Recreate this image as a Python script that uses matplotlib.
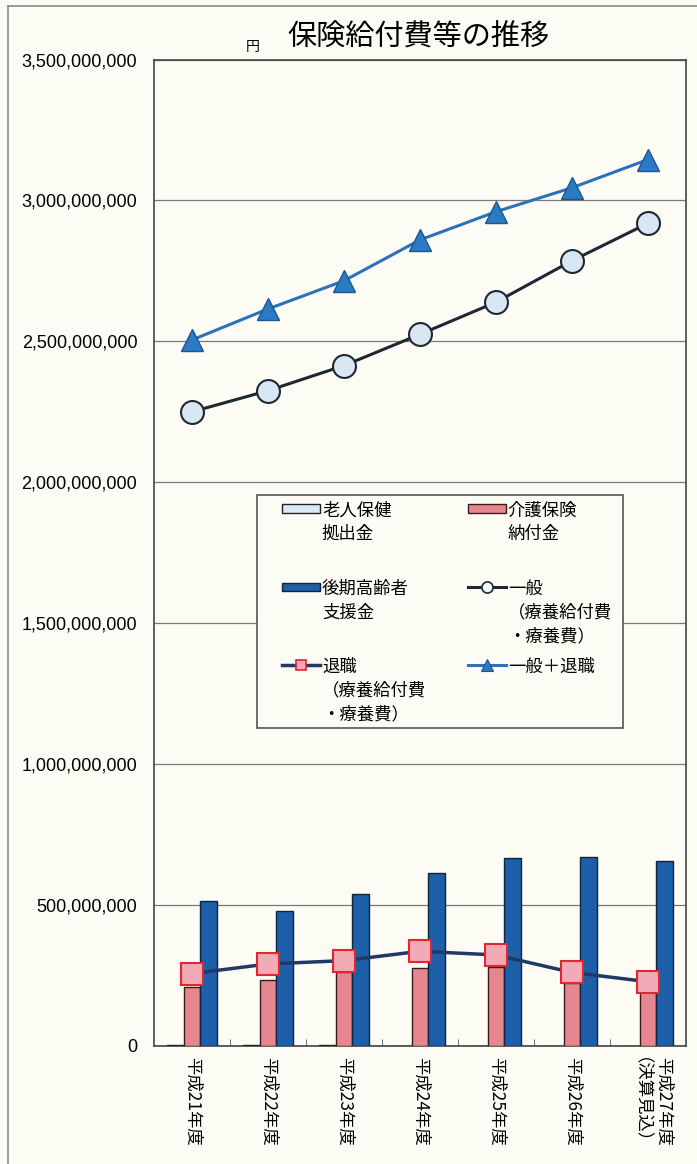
import numpy as np
import matplotlib
matplotlib.use('Agg')
import matplotlib.pyplot as plt
from matplotlib.patches import Rectangle
from matplotlib.lines import Line2D
from matplotlib.legend_handler import HandlerPatch
from matplotlib.ticker import FuncFormatter, MultipleLocator

plt.rcParams['font.family'] = ['Noto Sans CJK JP', 'DejaVu Sans']

#data (yen)
years = ['平成21年度', '平成22年度', '平成23年度', '平成24年度',
         '平成25年度', '平成26年度', '平成27年度\n（決算見込）']
roujin = [3.0e6, 2.5e6, 2.0e6, 1.5e6, 1.5e6, 1.0e6, 1.0e6]        #老人保健拠出金
kaigo = [2.08e8, 2.34e8, 2.62e8, 2.76e8, 2.82e8, 2.22e8, 1.90e8]   #介護保険納付金
kouki = [5.13e8, 4.80e8, 5.41e8, 6.13e8, 6.68e8, 6.69e8, 6.57e8]   #後期高齢者支援金
ippan = [2.250e9, 2.325e9, 2.414e9, 2.525e9, 2.639e9, 2.786e9, 2.919e9]
taishoku = [2.57e8, 2.91e8, 3.03e8, 3.36e8, 3.23e8, 2.61e8, 2.28e8]
goukei = [2.505e9, 2.615e9, 2.715e9, 2.860e9, 2.960e9, 3.045e9, 3.145e9]

legend_labels = ['老人保健\n拠出金\n', '後期高齢者\n支援金\n', '退職\n（療養給付費\n・療養費）',
                 '介護保険\n納付金\n', '一般\n（療養給付費\n・療養費）', '一般＋退職']

#colours
bg = '#fcfcf4'
c_roujin = '#d8eaf4'
c_kaigo = '#e6878f'
c_kouki = '#1d5fa8'
c_ippan = '#1f2733'
c_tai_line = '#1e3a66'
c_goukei = '#2b72ba'

W, H = 697, 1164
fig = plt.figure(figsize=(W/100, H/100), dpi=100)
fig.patch.set_facecolor(bg)

ax_l, ax_r, ax_t, ax_b = 154, 686, 59.5, 1046
ax = fig.add_axes([ax_l/W, 1-ax_b/H, (ax_r-ax_l)/W, (ax_b-ax_t)/H])
ax.set_facecolor(bg)

x = np.arange(len(years))
w = 0.22

ax.bar(x-w, roujin, w, color=c_roujin, edgecolor='#222222', linewidth=1, zorder=3)
ax.bar(x, kaigo, w, color=c_kaigo, edgecolor='#3a1a1a', linewidth=1, zorder=3)
ax.bar(x+w, kouki, w, color=c_kouki, edgecolor='#0f2440', linewidth=1, zorder=3)

ax.plot(x, ippan, color=c_ippan, lw=2.2, marker='o', ms=16.5, mfc='#d8e8f2',
        mec=c_ippan, mew=1.5, zorder=6)
ax.plot(x, goukei, color=c_goukei, lw=2.2, marker='^', ms=16, mfc='#2a7bc4',
        mec='#1d5590', mew=1, zorder=6)
ax.plot(x, taishoku, color=c_tai_line, lw=2.5, marker='s', ms=15.5, mfc='#f2aab6',
        mec='#e0262f', mew=1.5, zorder=6)

#axes
ax.set_xlim(-0.5, 6.5)
ax.set_ylim(0, 3.5e9)
ax.yaxis.set_major_locator(MultipleLocator(5e8))
ax.yaxis.set_major_formatter(FuncFormatter(lambda v, p: f'{v:,.0f}'))
ax.tick_params(axis='y', length=0, pad=12, labelsize=13)
for t in ax.get_yticklabels():
    t.set_fontfamily('Liberation Sans')
ax.yaxis.grid(True, color='#7a7a7a', lw=0.9)
ax.set_axisbelow(True)

ax.set_xticks(x)
ax.set_xticklabels(years, rotation=270, ha='center', va='top', fontsize=12.5,
                   multialignment='left')
for t in ax.get_xticklabels():
    t.set_linespacing(1.9)
ax.set_xticks(np.arange(0.5, 6.5, 1), minor=True)
ax.tick_params(axis='x', which='major', length=0, pad=8)
ax.tick_params(axis='x', which='minor', direction='in', length=5, color='#555555')
for s in ax.spines.values():
    s.set_color('#444444')
    s.set_linewidth(1.2)

#legend
def thin_rect(legend, orig_handle, xdescent, ydescent, width, height, fontsize):
    h = 0.5*fontsize
    return Rectangle((-xdescent, (height-ydescent)/2 - h/2), width, h)

h_roujin = Rectangle((0, 0), 1, 1, fc=c_roujin, ec='#222222', lw=1)
h_kaigo = Rectangle((0, 0), 1, 1, fc=c_kaigo, ec='#3a1a1a', lw=1)
h_kouki = Rectangle((0, 0), 1, 1, fc=c_kouki, ec='#0f2440', lw=1)
h_ippan = Line2D([], [], color=c_ippan, lw=2.2, marker='o', ms=8, mfc='#f4f8fb', mec=c_ippan, mew=1.2)
h_tai = Line2D([], [], color=c_tai_line, lw=2.5, marker='s', ms=7, mfc='#f2aab6', mec='#e0262f', mew=1.2)
h_goukei = Line2D([], [], color=c_goukei, lw=2.2, marker='^', ms=8, mfc='#2a7bc4', mec='#1d5590', mew=0.8)

ax.add_patch(Rectangle((0.1936, 0.3224), 0.688, 0.2361, transform=ax.transAxes,
                       fc=bg, ec='#555555', lw=1.2, zorder=4))
leg = ax.legend([h_roujin, h_kouki, h_tai, h_kaigo, h_ippan, h_goukei], legend_labels,
                ncol=2, loc='upper left', bbox_to_anchor=(0.2406, 0.552), frameon=False,
                fontsize=12.5, handlelength=2.2, handleheight=1.2, handletextpad=0.1,
                columnspacing=2.4, labelspacing=0.75, borderpad=0, borderaxespad=0,
                handler_map={Rectangle: HandlerPatch(patch_func=thin_rect)})
leg.set_zorder(7)
for t in leg.get_texts():
    t.set_linespacing(1.4)
for col in leg._legend_handle_box.get_children():
    for row in col.get_children():
        row.align = 'top'

#titles
fig.text(418/W, 1-38/H, '保険給付費等の推移', ha='center', va='center', fontsize=21)
fig.text(253/W, 1-47/H, '円', ha='center', va='center', fontsize=10)

#scan border
fig.add_artist(Line2D([8/W, 1.0], [1-6/H, 1-6/H], transform=fig.transFigure, color='#8a8a8a', lw=1.2))
fig.add_artist(Line2D([8/W, 8/W], [0, 1-6/H], transform=fig.transFigure, color='#8a8a8a', lw=1.2))

fig.savefig('out.png', dpi=100, facecolor=bg)
